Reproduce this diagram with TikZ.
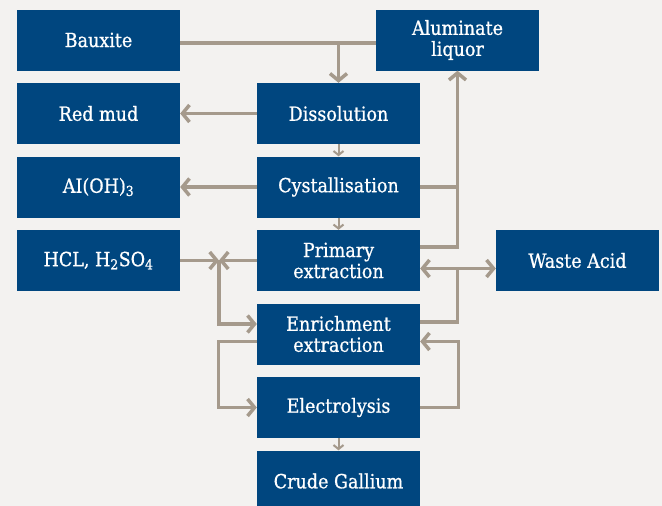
\documentclass[tikz,border=0pt]{standalone}
\usepackage{fontspec}
\setmainfont{DejaVu Serif Condensed}
\newfontfamily\stagefont[FakeBold=0.8]{DejaVu Serif Condensed}
\usepackage{tikz}
\usetikzlibrary{arrows.meta, positioning}

\definecolor{boxblue}{RGB}{0,70,127}
\definecolor{flowgrey}{RGB}{165,154,140}
\definecolor{bggrey}{RGB}{243,242,240}

\tikzset{
  stage/.style={fill=boxblue, text=white, minimum width=163pt, minimum height=61pt,
    inner sep=2pt, align=center, font=\stagefont\fontsize{19.5}{21}\selectfont},
  flow/.style={draw=flowgrey, line width=3.5pt},
  thinflow/.style={draw=flowgrey, line width=2pt, -{Straight Barb[length=4pt, width=10pt]}},
}

\begin{document}
\begin{tikzpicture}[x=1pt, y=-1pt, >={Straight Barb[length=7pt, width=17pt]}]
  \useasboundingbox[fill=bggrey] (0,0) rectangle (662,506);

  % left column
  \node[stage] (bauxite) at (98.5,40)    {Bauxite};
  \node[stage] (redmud)  at (98.5,113.5) {Red mud};
  \node[stage] (aloh)    at (98.5,187)   {AI(OH)\textsubscript{3}};
  \node[stage] (acids)   at (98.5,260.5) {HCL, H\textsubscript{2}SO\textsubscript{4}};

  % main line
  \node[stage] (dissol)  at (338.5,113.5) {Dissolution};
  \node[stage] (cryst)   at (338.5,187)   {Cystallisation};
  \node[stage] (primary) at (338.5,260.5) {Primary\\extraction};
  \node[stage] (enrich)  at (338.5,334)   {Enrichment\\extraction};
  \node[stage] (electro) at (338.5,407.5) {Electrolysis};
  \node[stage] (crude)   at (338.5,481)   {Crude Gallium};

  % right side
  \node[stage] (alum)  at (457.5,40)    {Aluminate\\liquor};
  \node[stage] (waste) at (577.5,260.5) {Waste Acid};

  \coordinate (feed) at (338.5,43);
  \coordinate (mix)  at (219,260.5);
  \coordinate (wj)   at (457.5,268.5);

  % top feed
  \draw[flow] ([yshift=-3pt]bauxite.east) -- ([yshift=-3pt]alum.west);
  \draw[flow,->] (feed) -- (dissol.north);
  \draw[flow,->] (dissol.west) -- (redmud.east);
  \draw[thinflow] (dissol.south) -- (cryst.north);
  \draw[flow,->] (cryst.west) -- (aloh.east);
  \draw[thinflow] (cryst.south) -- (primary.north);

  % liquor return
  \draw[flow,->] (cryst.east) -| (alum.south);
  \draw[flow] ([yshift=13.5pt]primary.east) -| (cryst.east -| alum.south);

  % acid loop
  \draw[flow,->] (acids.east) -- (mix);
  \draw[flow,->] (primary.west) -- (mix);
  \draw[flow,->] (mix) |- ([yshift=10pt]enrich.west);
  \draw[flow,<->] ([yshift=-8pt]primary.east) -- ([yshift=-8pt]waste.west);
  \draw[flow] ([yshift=12pt]enrich.east) -| (wj);

  % electrolysis loop
  \draw[flow,->] ([yshift=-7.5pt]enrich.west) -- ++(-38.5,0) |- (electro.west);
  \draw[flow,->] (electro.east) -- ++(38.5,0) |- ([yshift=-7.5pt]enrich.east);
  \draw[thinflow] (electro.south) -- (crude.north);
\end{tikzpicture}
\end{document}
